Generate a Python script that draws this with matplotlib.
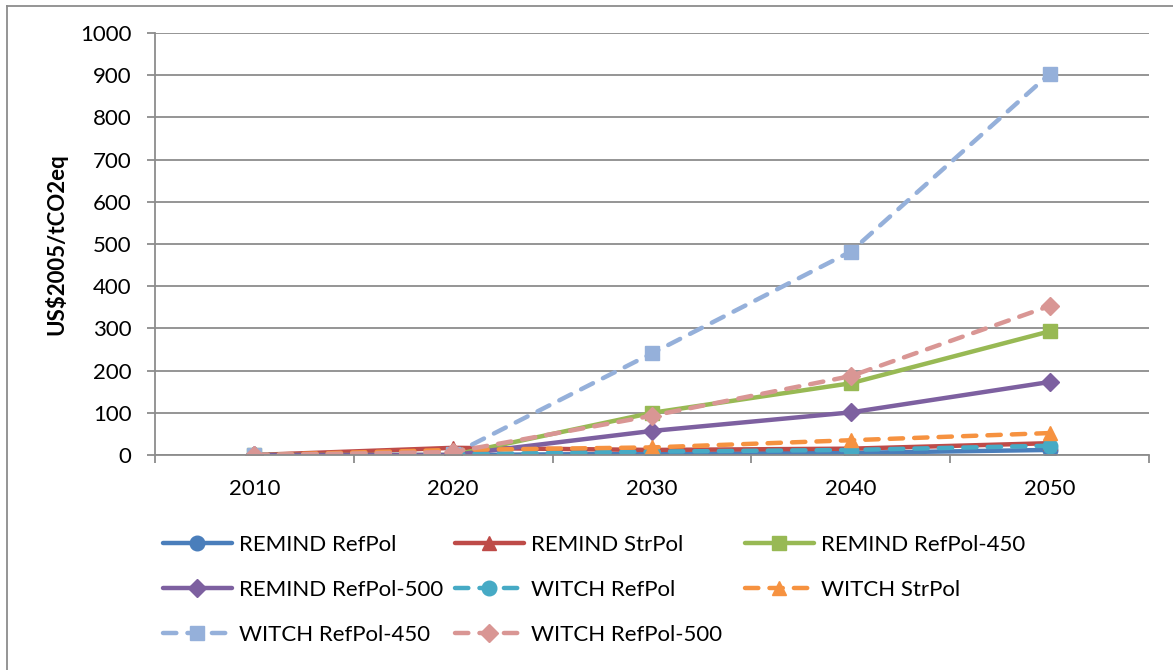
import matplotlib
matplotlib.use("Agg")
import matplotlib.pyplot as plt
from matplotlib.lines import Line2D

plt.rcParams['font.family'] = ['Lato', 'DejaVu Sans']

years = ["2010", "2020", "2030", "2040", "2050"]

remind_refpol = [0, 0, 3, 5, 12]
remind_strpol = [0, 17, 12, 15, 28]
remind_refpol_450 = [0, 0, 100, 170, 293]
remind_refpol_500 = [0, 0, 57, 101, 173]
witch_refpol = [0, 2, 8, 12, 22]
witch_strpol = [0, 12, 18, 35, 52]
witch_refpol_450 = [0, 2, 241, 482, 903]
witch_refpol_500 = [0, 7, 93, 187, 353]

series = [
    ("REMIND RefPol", remind_refpol, "#4A7EBB", "o", "-"),
    ("REMIND StrPol", remind_strpol, "#BE4B48", "^", "-"),
    ("REMIND RefPol-450", remind_refpol_450, "#98B954", "s", "-"),
    ("REMIND RefPol-500", remind_refpol_500, "#7D60A0", "D", "-"),
    ("WITCH RefPol", witch_refpol, "#46AAC5", "o", "--"),
    ("WITCH StrPol", witch_strpol, "#F69240", "^", "--"),
    ("WITCH RefPol-450", witch_refpol_450, "#95B0DA", "s", "--"),
    ("WITCH RefPol-500", witch_refpol_500, "#D99694", "D", "--"),
]

W, H = 1173, 670
fig = plt.figure(figsize=(W / 100, H / 100), dpi=100)
left, right, top, bottom = 155, 1149, 33, 455
ax = fig.add_axes([left / W, 1 - bottom / H, (right - left) / W, (bottom - top) / H])

GRID = "#8C8C8C"
FS = 16

x = list(range(len(years)))
handles = []
for name, vals, color, marker, ls in series:
    ms = {"o": 10.5, "^": 10.5, "s": 10.5, "D": 9}[marker]
    kw = dict(color=color, lw=3.2, marker=marker, markersize=ms,
              markerfacecolor=color, markeredgecolor=color, label=name,
              solid_capstyle="round")
    if ls == "--":
        kw.update(dashes=(3.0, 2.5), dash_capstyle="round")
    h, = ax.plot(x, vals, **kw)
    handles.append(h)

ax.set_xlim(-0.5, len(years) - 0.5)
ax.set_ylim(0, 1000)
ax.set_yticks(range(0, 1001, 100))
ax.set_xticks(x)
ax.set_xticklabels(years)
ax.set_xticks([i - 0.5 for i in range(len(years) + 1)], minor=True)
ax.tick_params(axis="x", which="major", length=0, pad=17, labelsize=FS)
ax.tick_params(axis="x", which="minor", length=6, color=GRID, width=1.3)
ax.tick_params(axis="y", length=6, color=GRID, width=1.3, labelsize=FS, pad=11)
ax.grid(axis="y", color=GRID, lw=1.3)
ax.set_axisbelow(True)
for s in ["top", "right"]:
    ax.spines[s].set_visible(False)
for s in ["left", "bottom"]:
    ax.spines[s].set_color(GRID)
    ax.spines[s].set_linewidth(1.3)

# vertical axis title
fig.text(56 / W, 1 - 244 / H, "US$2005/tCO2eq", rotation=90, fontsize=FS,
         fontweight="bold", ha="center", va="center")

# legend: one entry per slot, three columns by three rows
col_x = [163, 455, 745]
row_y = [545, 590, 635]
for i, h in enumerate(handles):
    r, c = divmod(i, 3)
    fig.legend([h], [series[i][0]], loc="center left",
               bbox_to_anchor=(col_x[c] / W, 1 - row_y[r] / H),
               frameon=False, fontsize=FS, handlelength=3.1,
               handletextpad=0.3, borderaxespad=0, borderpad=0)

# outer chart frame (top and left edges)
fig.add_artist(Line2D([6.5 / W, 1], [1 - 5.5 / H, 1 - 5.5 / H], transform=fig.transFigure,
                      color=GRID, lw=1.3))
fig.add_artist(Line2D([6.5 / W, 6.5 / W], [0, 1 - 5.5 / H], transform=fig.transFigure,
                      color=GRID, lw=1.3))

fig.savefig("out.png", dpi=100)
